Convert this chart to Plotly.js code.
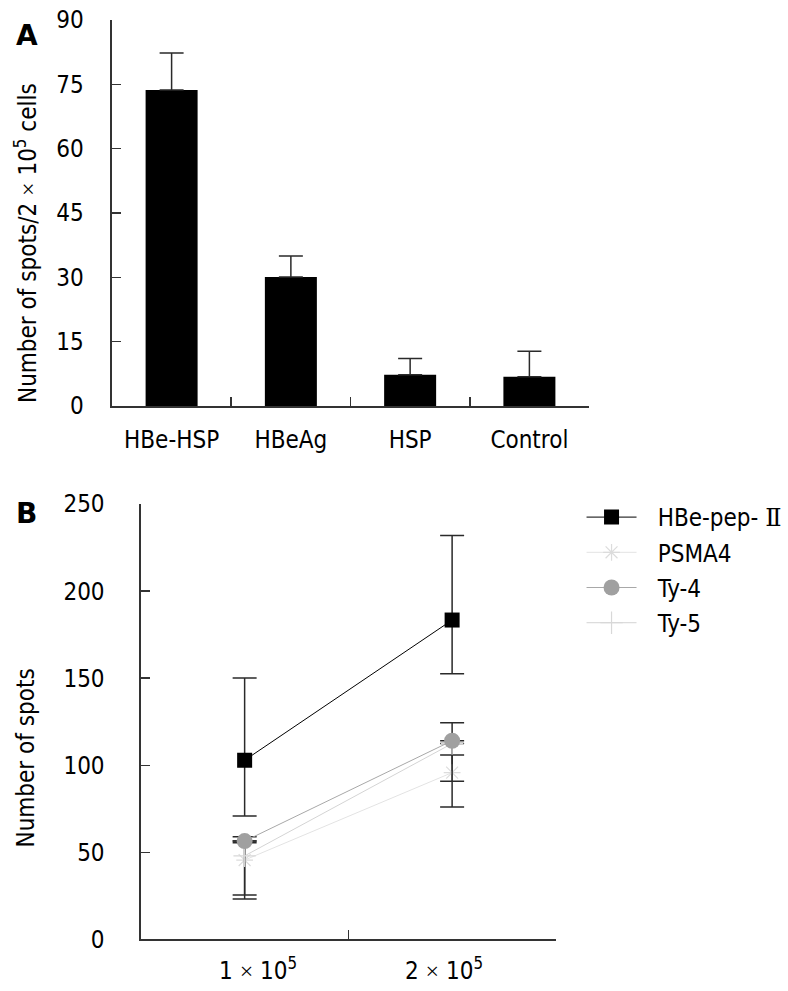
<!DOCTYPE html>
<html>
<head>
<meta charset="utf-8">
<script src="https://cdn.plot.ly/plotly-3.0.1.min.js"></script>
<style>html,body{margin:0;padding:0;background:#fff;}#chart{width:788px;height:991px;}</style>
</head>
<body>
<div id="chart"></div>
<script>
// ---- Panel A data ----
var catsA = ["HBe-HSP", "HBeAg", "HSP", "Control"];
var valsA = [73.7, 30.1, 7.3, 6.8];
var errA = [8.6, 4.9, 3.8, 5.95];
var yTicksA = [0, 15, 30, 45, 60, 75, 90];

// ---- Panel B data ----
var X = "<span style='font-family:Liberation Serif'>×</span>";
var catsB = ["\u2003\u20051 " + X + " 10<sup>5</sup>", "2 " + X + " 10<sup>5</sup>\u2002\u2005"];
var yTicksB = [0, 50, 100, 150, 200, 250];
var seriesNames = ['HBe-pep- <span style="font-family:DejaVu Serif">Ⅱ</span>', 'PSMA4', 'Ty-4', 'Ty-5'];

var hbeY = [102.9, 183.4];
var hbePlus = [47.2, 48.5];
var hbeMinus = [32.0, 30.8];

var psmaY = [45.6, 95.8];
var psmaPlus = [10.9, 10.1];
var psmaMinus = [22.4, 19.7];

var ty4Y = [56.5, 114.1];
var ty4Plus = [2.5, 10.4];
var ty4Minus = [0.9, 0.0];

var ty5Y = [48.0, 112.5];
var ty5Plus = [8.5, 0.0];
var ty5Minus = [22.5, 21.7];

var FONT = "'DejaVu Sans Condensed', 'DejaVu Sans', sans-serif";
var ERR = '#2a2a2a';
var GAP = '\u2002\u2005';

function eb(plus, minus) {
  return {type: 'data', symmetric: false, array: plus, arrayminus: minus,
          color: ERR, thickness: 1.5, width: 12, visible: true};
}

var traces = [
  {type: 'bar', x: catsA, y: valsA, xaxis: 'x', yaxis: 'y', showlegend: false,
   marker: {color: '#000', line: {width: 0}},
   error_y: eb(errA, [0, 0, 0, 0])},
  {type: 'scatter', mode: 'lines+markers', name: GAP + seriesNames[0],
   x: catsB, y: hbeY, xaxis: 'x2', yaxis: 'y2', legendrank: 1, legendgroup: 'a',
   line: {color: '#000', width: 1},
   marker: {symbol: 'square', size: 15, color: '#000'},
   error_y: eb(hbePlus, hbeMinus)},
  {type: 'scatter', mode: 'lines+markers', name: GAP + seriesNames[1],
   x: catsB, y: psmaY, xaxis: 'x2', yaxis: 'y2', legendrank: 2, legendgroup: 'b',
   line: {color: '#e3e3e3', width: 1},
   marker: {symbol: 'asterisk-open', size: 14, color: '#dcdcdc', line: {color: '#dcdcdc', width: 1.2}},
   error_y: eb(psmaPlus, psmaMinus)},
  {type: 'scatter', mode: 'lines+markers', name: GAP + seriesNames[3],
   x: catsB, y: ty5Y, xaxis: 'x2', yaxis: 'y2', legendrank: 4, legendgroup: 'd',
   line: {color: '#d4d4d4', width: 1},
   marker: {symbol: 'cross-thin-open', size: 16, color: '#d8d8d8', line: {color: '#d8d8d8', width: 1.2}},
   error_y: eb(ty5Plus, ty5Minus)},
  {type: 'scatter', mode: 'lines+markers', name: GAP + seriesNames[2],
   x: catsB, y: ty4Y, xaxis: 'x2', yaxis: 'y2', legendrank: 3, legendgroup: 'c',
   line: {color: '#a8a8a8', width: 1},
   marker: {symbol: 'circle', size: 16, color: '#a0a0a0'},
   error_y: eb(ty4Plus, ty4Minus)}
];

var axBase = {
  showline: true, linecolor: '#333', linewidth: 1.5,
  ticks: 'inside', ticklen: 9, tickwidth: 1.5, tickcolor: '#333',
  showgrid: false, zeroline: false, fixedrange: true,
  tickfont: {family: FONT, size: 24, color: '#000'}
};
function ax(o) { return Object.assign({}, axBase, o); }

var layout = {
  width: 788, height: 991,
  margin: {l: 0, r: 0, t: 0, b: 0},
  paper_bgcolor: '#fff', plot_bgcolor: '#fff',
  font: {family: FONT, size: 24, color: '#000'},
  bargap: 0.564,
  showlegend: true,
  xaxis: ax({domain: [0.1421, 0.7475], anchor: 'y', type: 'category', range: [-0.5, 3.5],
             tickson: 'boundaries', ticklabelstandoff: 12}),
  yaxis: ax({domain: [0.5903, 0.9798], anchor: 'x', range: [0, 90], tickvals: yTicksA,
             ticklabelstandoff: 22}),
  xaxis2: ax({domain: [0.1788, 0.7054], anchor: 'y2', type: 'category', range: [-0.5, 1.5],
              tickson: 'boundaries', ticklabelstandoff: 9}),
  yaxis2: ax({domain: [0.05197, 0.4914], anchor: 'x2', range: [0, 250], tickvals: yTicksB,
              ticklabelstandoff: 30}),
  legend: {x: 0.738, y: 0.5005, xanchor: 'left', yanchor: 'top', bgcolor: 'rgba(0,0,0,0)',
           traceorder: 'grouped', tracegroupgap: 1, itemwidth: 50,
           font: {family: FONT, size: 24, color: '#000'}},
  annotations: [
    {xref: 'paper', yref: 'paper', x: 26 / 788, y: 1 - 243 / 991, xanchor: 'center', yanchor: 'middle',
     textangle: -90, showarrow: false, text: 'Number of spots/2 ' + X + ' 10<sup>5</sup> cells',
     font: {family: FONT, size: 24, color: '#000'}},
    {xref: 'paper', yref: 'paper', x: 25.5 / 788, y: 1 - 758 / 991, xanchor: 'center', yanchor: 'middle',
     textangle: -90, showarrow: false, text: 'Number of spots',
     font: {family: FONT, size: 24, color: '#000'}},
    {xref: 'paper', yref: 'paper', x: 27 / 788, y: 1 - 36 / 991, xanchor: 'center', yanchor: 'middle',
     showarrow: false, text: '<b>A</b>', font: {family: 'DejaVu Sans', size: 28, color: '#000'}},
    {xref: 'paper', yref: 'paper', x: 26.5 / 788, y: 1 - 513 / 991, xanchor: 'center', yanchor: 'middle',
     showarrow: false, text: '<b>B</b>', font: {family: 'DejaVu Sans', size: 28, color: '#000'}}
  ]
};

Plotly.newPlot('chart', traces, layout, {displayModeBar: false, staticPlot: true});
</script>
</body>
</html>
